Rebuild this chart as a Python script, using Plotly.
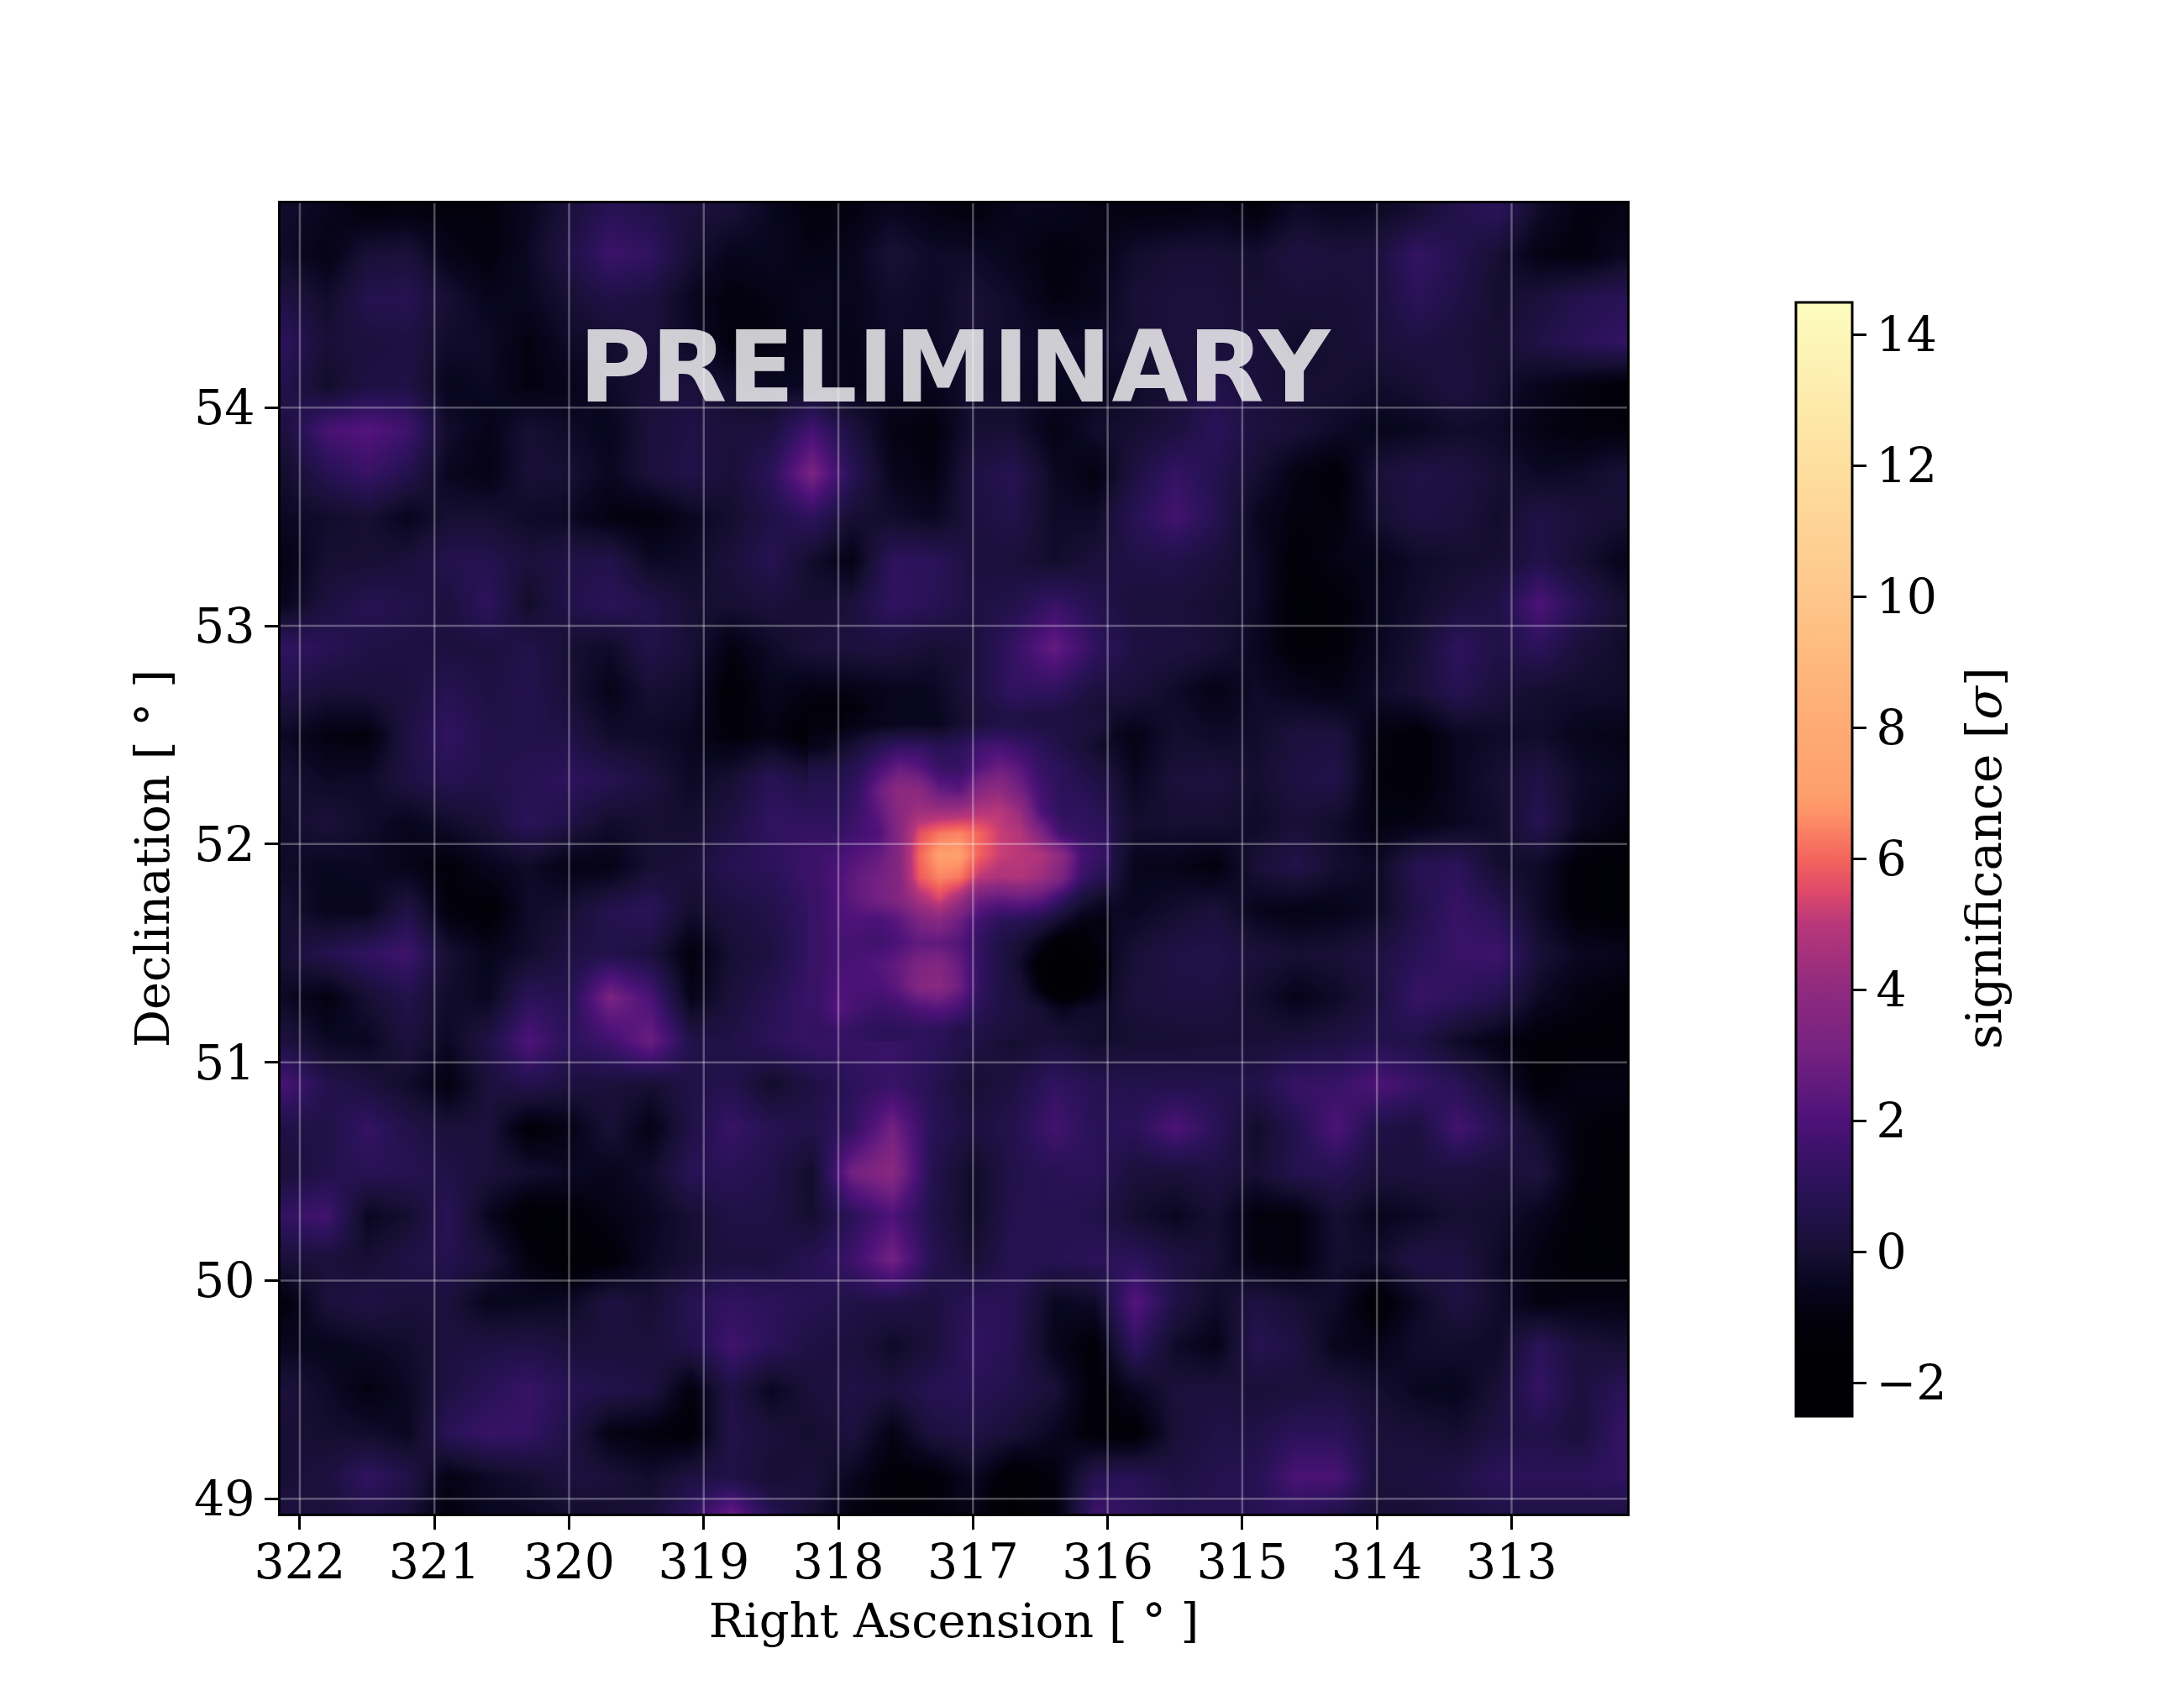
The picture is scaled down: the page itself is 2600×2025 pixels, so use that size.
import plotly.graph_objects as go

# sky grid
ra_values = [322.1, 321.8, 321.5, 321.2, 320.9, 320.6, 320.3, 320.0, 319.7, 319.4, 319.1, 318.8,
             318.5, 318.2, 317.9, 317.6, 317.3, 317.0, 316.7, 316.4, 316.1, 315.8, 315.5, 315.2,
             314.9, 314.6, 314.3, 314.0, 313.7, 313.4, 313.1, 312.8, 312.5, 312.2]
dec_values = [54.9, 54.7, 54.5, 54.3, 54.1, 53.9, 53.7, 53.5, 53.3, 53.1, 52.9, 52.7, 52.5, 52.3, 52.1, 51.9,
              51.7, 51.5, 51.3, 51.1, 50.9, 50.7, 50.5, 50.3, 50.1, 49.9, 49.7, 49.5, 49.3, 49.1, 48.9]

# significance, one row per declination, top to bottom
significance = [
    [-0.2,-0.6,-1,-0.9,-1,-1,-0.5,0.2,0.9,0.6,0.2,0.1,-0.5,-1,-0.9,-0.5,-0.8,-1,-0.6,-0.6,-0.8,-0.9,-0.9,-0.7,-1,-0.3,-0.5,-0.4,0,0.6,1.0,-0.3,-0.9,-0.8],
    [-0.3,-0.8,0.1,0.2,-0.7,-1,-0.4,0.5,1.5,1.2,0,-0.6,-0.5,-0.8,-0.6,0.1,-0.3,-0.3,-0.6,-1,-0.8,-0.2,0.1,0.1,-0.1,0.4,0.2,0.3,1.3,0.7,0,-0.8,-1,-0.5],
    [0.4,-0.2,0.7,0.8,0,-0.6,-0.5,0,0.5,0.3,-0.5,-1,-0.8,-0.5,-0.6,-0.2,-0.4,0.1,-0.3,-0.9,-0.7,0.1,0.2,0.2,0,0.1,0.1,0.2,1.0,0.5,-0.1,0.2,0.7,0.9],
    [1.0,0.1,0.3,0.4,-0.2,-0.3,-0.9,-0.3,-0.1,0.2,-0.3,-1,-0.9,-0.6,-0.7,-0.3,-0.4,0,-0.2,-0.3,-0.3,0,0.2,0.2,0.2,-0.2,0,0.2,0.4,0.2,0,0.5,0.9,1.2],
    [0.6,-0.2,0.4,0.5,-0.6,-0.4,-0.9,-0.7,-0.3,0.1,0.2,-0.2,-0.5,-0.4,-0.7,-0.5,-0.6,-0.2,-0.3,-0.5,-0.6,-0.3,0.1,0.6,0.2,0,0,-0.2,0,0.4,-0.1,-0.6,-0.9,-1.2],
    [0.4,1.8,2.2,1.6,-0.2,-0.7,0,-0.3,-0.6,0.2,0.5,0.2,0.3,1.7,0.3,-0.8,-1,0,0,-0.8,-0.2,0,0.3,1.0,0.3,0.1,-0.3,-0.6,-0.5,-0.2,-0.3,-0.8,-1,-1],
    [-0.1,0.8,1.4,0.7,-0.5,-0.8,0.1,0,-0.5,0.2,0.6,0.1,1.0,3.2,0.9,-0.6,-0.9,0.4,0.8,-0.4,-0.9,0.4,1.3,0.7,0,-0.8,-1.2,0.1,0.5,0.4,0,-0.4,-0.3,0.1],
    [-0.4,-0.2,0,-0.6,0,0,-0.3,-0.4,-0.9,-1,-0.5,-0.1,0.5,1.1,0,-0.2,-0.5,0.3,0.6,-0.3,-0.3,0.9,1.7,0.8,-0.5,-1,-1,-0.1,0.4,0.3,-0.2,0.5,0.2,0],
    [-0.8,0,0,0.2,0.7,0.7,0.2,0.5,0.6,-0.4,-0.3,0.2,0.8,-0.2,-0.8,1.1,1.0,0.3,0.2,-0.2,0.2,0.5,0.6,0.2,-0.3,-1.2,-0.8,-0.7,-0.3,-0.1,0,0.6,0,-0.6],
    [-0.5,0.3,0.8,0.6,0.3,1.1,-0.2,0.6,1.0,0.6,0,0,0.2,0,0.2,1.2,0.9,0.4,0.6,1.4,0.7,0.2,0.2,0,-0.3,-1.3,-1.2,-0.6,-0.2,0.2,0.5,2.0,0.8,0],
    [1.2,0.9,0.5,0.4,0.3,0.3,0.6,0,-0.3,0.6,0.1,-0.9,-0.3,0.2,0.3,0.3,0,0.2,1.3,2.6,1.2,0.4,0.3,0.1,-0.5,-1.2,-1.1,-0.5,0,1.1,0.5,1.0,0.2,-0.2],
    [0.5,0.1,0.2,0.3,0.8,0.4,0.7,0.1,-0.7,0,-0.2,-1.3,-0.6,-0.9,-0.8,-0.6,-0.5,0.3,1.2,1.1,0.3,0.2,-0.3,-0.8,-0.3,-0.6,-0.8,-0.3,0.1,0.8,0.2,-0.1,-0.2,-0.2],
    [-0.4,-0.9,-1,0.4,1.2,0.6,0.6,0.5,-0.2,-0.3,-0.5,-1.1,-0.8,-1.4,-1.5,-0.3,-0.6,-0.1,0,-0.3,-0.2,-0.8,-0.1,-0.3,-0.2,0.3,0.3,-0.9,-1.2,-0.5,-0.3,-0.2,-0.6,-0.7],
    [0,-0.4,-0.3,0.4,0.8,0.6,0.8,1.1,0.8,0.3,-0.4,0,0.9,0.3,0.4,1.8,1.4,1.3,2.2,0.9,0.6,-0.5,0.2,0.3,-0.1,0.4,0.6,-1,-1.2,-0.5,0,0.5,-0.3,-0.5],
    [-0.2,0.2,-0.2,-0.6,-0.2,0.2,1.0,0.5,-0.2,0,-0.1,0.4,1.2,1.2,1.6,3.4,6.5,6.5,4.0,2.0,0.9,-0.1,0,0,-0.3,0.1,-0.2,-0.9,-0.8,-0.5,-0.2,0.8,-0.4,-0.9],
    [-0.3,-0.5,-0.4,-0.7,-1.1,-0.6,-0.3,-0.8,-0.8,0,0.2,0.8,1.0,1.6,2.0,3.8,7,6.5,5.0,5.0,1.2,-0.6,-0.7,-1,0.1,0.6,-0.1,-0.4,0.8,1.0,-0.1,-0.3,-1.2,-1.3],
    [0,-0.6,-0.6,0.5,-1,-1.3,-0.3,0,0.7,1.0,-0.1,0.3,0.6,1.3,1.3,2.0,4.5,2.5,1.5,0.3,-0.3,-0.5,-0.1,0.2,-0.6,-0.8,-0.7,-0.4,0.6,1.4,0.8,-0.3,-1.2,-1.3],
    [0.1,0.7,1.2,1.6,0,-0.6,-0.2,0.4,0.6,0.3,-1,0,0.4,1.3,1.1,2.2,3.4,1.6,0.8,-1.8,-0.8,0.1,0.5,0.6,0.2,0,0.1,0.4,0.9,1.4,1.6,0.1,-0.5,-0.6],
    [-0.4,-0.9,0,0.6,-0.2,-0.5,1.0,0.7,3.2,1.9,-0.7,0.2,0.8,1.5,1.3,2.0,3.6,1.2,0.6,-1.5,-0.5,0.2,0.4,0.4,-0.1,-0.7,-0.3,0.3,1.4,1.1,0.7,-0.4,-0.9,-1.1],
    [0.3,-0.4,-0.5,0.3,-0.4,0.5,2.0,1.0,1.6,2.8,0.6,0.5,1.0,1.4,1.4,1.4,1.0,0.5,-0.1,0.2,-0.2,0,0,0.1,0.1,0.2,0.4,0.7,0.5,-0.3,-0.8,-1.2,-1.2,-1.2],
    [1.8,0.7,0.3,-0.2,-0.9,0.2,0.7,0.3,0.2,0,0.5,0.7,-0.2,0.4,1.0,1.4,0.8,0,0.4,1.2,0.8,0.6,0.7,0.6,0.6,1.4,1.4,2.0,1.4,0.9,0,-1.2,-0.8,-0.8],
    [0.5,0.5,1.3,0.6,0.2,0.2,-1.2,-0.8,0.1,-0.8,0.5,1.4,0.8,0.6,1.2,3.0,0.9,0.3,0.7,1.7,0.9,1.0,2.0,1.0,-0.2,0.7,2.0,0.5,0.3,1.7,0.8,-0.2,-1,-1.2],
    [0.2,0.6,0.9,0.8,0.5,0.2,-0.1,-0.4,-0.6,-0.2,0.9,0.9,0.6,-0.2,3.0,3.8,0.7,-0.3,0.6,0.9,1.0,0.2,0.2,0.4,0,0.7,0.8,0.2,0.3,0.3,0.1,0.3,-1,-1.3],
    [1.3,1.7,-0.5,-0.1,0.9,-0.5,-1.4,-1.2,-0.8,-0.5,0,0.5,0.5,-0.1,1.0,2.0,0.6,-0.3,0.7,0.8,0.6,-0.1,-0.5,0,-1,-1,0,-0.6,-0.4,0,-0.1,-0.6,-1.2,-1.4],
    [0.2,0.2,0,0.5,0.7,0.2,-0.9,-1.5,-1.2,-0.4,0,0.3,0.3,0.8,1.5,3.0,0.8,0,0.8,0.8,1.0,1.0,0.4,0,-0.9,-1,-0.1,-0.2,0.5,0.4,-0.3,-0.9,-1.3,-1.3],
    [-1,0.2,0.5,0.2,0.2,-0.6,-0.5,-0.4,0.4,0,0.8,1.2,1.0,0.8,0.5,0.5,0.3,1.0,0.9,-0.5,-0.3,2.2,0.5,-0.3,0.4,0,-0.3,-1.4,-0.4,0.4,-0.2,-0.9,-0.8,-0.8],
    [-0.5,-0.6,-0.4,-0.2,0.3,0.4,0.5,0.2,0.2,0.2,0.6,1.6,1.0,0.4,0.3,-0.3,0.2,1.2,0.8,-0.6,-1.2,1.2,-0.3,-0.7,0.8,0.4,-0.6,-0.7,-0.2,-0.2,-0.3,1.0,0.2,0],
    [0.2,-0.3,-0.9,-0.4,0.4,0.9,1.4,0.8,0.6,0.4,-1,0.5,-0.5,0.2,0.5,0.3,0.8,0.9,0.6,0.1,-1.2,-0.5,0.2,0.3,0.1,0.2,0.3,-0.1,-0.5,-0.6,0.1,1.3,0.3,0.9],
    [0.1,-0.1,-0.2,-0.5,0.9,1.4,1.3,0.5,-0.8,-1,-1.2,0.6,0.2,-0.1,0.3,-0.8,0.3,0.5,0.1,-0.5,-1.2,-1.3,0.1,0.5,0.5,1.0,1.0,0.2,0.1,-0.1,0.4,0.6,0.2,1.3],
    [0.1,0.3,1.2,0.6,-0.8,-0.4,-0.1,0.3,0.2,-0.2,0.4,0.5,0,0.2,-0.5,-1.2,-1.2,-0.4,-1.5,-1,0.8,0.9,0.4,0.7,0.8,1.9,1.9,0.2,0.3,0.5,1.0,1.0,1.0,1.2],
    [0.4,0.1,0.4,0,-1,-0.5,-0.5,-0.2,-0.1,0.2,1.2,3.0,0.9,0,-1,-1.2,-1,-0.8,-1.6,-1.1,1.7,1.2,0.8,0.7,0.8,0.8,0.3,0,0,0.3,0.4,0.4,0.4,0.3],
]

# finer grid over the bright source
core_ra = [318.15, 318.0, 317.85, 317.7, 317.55, 317.4, 317.25, 317.1, 316.95, 316.8, 316.65, 316.5, 316.35, 316.2, 316.05]
core_dec = [52.55, 52.45, 52.35, 52.25, 52.15, 52.05, 51.95, 51.85, 51.75, 51.65, 51.55, 51.45, 51.35, 51.25, 51.15]
core_significance = [
    [-1,-1,-0.8,-0.6,-0.5,-0.5,-0.5,-0.1,0.3,0.5,0.5,0.4,0.4,0.3,0.1],
    [-0.7,-0.3,0.2,0.8,1.2,1.2,0.8,1,1.6,1.8,1.4,1.0,0.5,0.2,-0.3],
    [0.4,0.4,0.9,1.8,2.7,2.3,1.4,1.3,2.2,2.8,2.3,1.3,1.0,0.5,0.2],
    [0.8,0.8,1.3,2.8,3.9,3.8,2.6,2.3,3.7,4.0,3.0,1.7,1.0,0.9,0.5],
    [1.0,1.0,1.5,2.4,3.8,4.4,4.4,4.5,4.9,5.0,4.2,2.0,1.1,1.1,0.8],
    [1.3,1.3,1.7,2.0,3.6,5.6,6.3,6.5,6.0,5.2,4.9,3.5,1.6,1.3,1.1],
    [1.5,1.8,2.2,2.6,3.6,6.0,7.0,7.0,5.9,5.2,5.0,4.8,3.9,1.8,1.3],
    [1.5,2.0,2.6,3.0,3.6,5.8,6.5,6.3,5.0,4.7,4.8,4.4,3.4,1.5,0.8],
    [1.4,2.0,2.6,3.0,3.5,4.6,5.4,4.4,2.8,2.5,2.7,2.4,1.3,0.2,-0.3],
    [1.4,1.9,2.0,1.9,2.3,3.3,3.7,2.8,1.6,1.0,0.8,0.5,-0.2,-0.8,-0.9],
    [1.4,1.8,1.7,1.6,2.0,2.5,2.5,2.2,1.2,0.5,0.1,-0.6,-1.5,-1.3,-0.8],
    [1.4,1.8,1.9,2.2,2.6,3.3,3.5,2.6,1.2,0.5,-0.2,-1.4,-2.3,-1.8,-1.0],
    [1.4,2.0,1.9,1.9,2.5,3.6,3.8,2.8,1.2,0.5,0.1,-1.0,-2.3,-1.8,-0.8],
    [1.4,2.2,1.7,1.4,1.6,2.0,2.2,1.8,0.9,0.5,0.3,0,-0.6,-0.3,-0.2],
    [1.2,1.4,1.2,1.0,1.0,1.1,1.0,0.6,0.5,0.3,0.1,0.1,0,-0.1,-0.2],
]

ra_ticks = [322, 321, 320, 319, 318, 317, 316, 315, 314, 313]
dec_ticks = [54, 53, 52, 51, 50, 49]
cbar_ticks = [-2, 0, 2, 4, 6, 8, 10, 12, 14]
z_min = -2.5
z_max = 14.5
ra_range = [322.143, 312.142]
dec_range = [48.932, 54.936]

# colorbar stops, value then colour
stop_values = [-2.5, -1.5, -1, -0.5, 0, 1, 2, 3, 4, 5, 5.5, 6, 6.7, 7, 8, 10, 12, 14.5]
stop_colors = ["#000004", "#010105", "#02010c", "#090620", "#160f33", "#2a1259", "#4d1278", "#732181", "#8f2a7f",
               "#b8377a", "#df4a6a", "#f3655c", "#fe9368", "#fea06e", "#feaa74", "#fec68a", "#fedf9f", "#fcfdbf"]
colorscale = [[(v - z_min) / (z_max - z_min), c] for v, c in zip(stop_values, stop_colors)]

W = 2600
H = 2025
# the page body adds 8px, so everything is placed 8px up and left
L, R, T, B = 326, 1929, 234, 1794
FONT = "DejaVu Serif"
GRID = "rgba(255,255,255,0.3)"
BLACK = dict(family=FONT, size=57, color="black")
TITLE = dict(family=FONT, size=56, color="black")

fig = go.Figure()
fig.add_trace(go.Heatmap(
    x=ra_values, y=dec_values, z=significance,
    zmin=z_min, zmax=z_max, zsmooth="best", colorscale=colorscale,
    colorbar=dict(
        lenmode="pixels", len=1326, thickness=67, thicknessmode="pixels",
        x=(2130 - L) / (R - L), xanchor="left", xpad=0, ypad=0,
        y=1 - (1014.5 - T) / (B - T), yanchor="middle",
        tickvals=cbar_ticks, ticks="outside", ticklen=16, tickwidth=3, tickcolor="black",
        tickfont=BLACK, outlinewidth=3, outlinecolor="black",
    ),
))
fig.add_trace(go.Heatmap(
    x=core_ra, y=core_dec, z=core_significance,
    zmin=z_min, zmax=z_max, zsmooth="best", colorscale=colorscale, showscale=False,
))

# grid sits on top of the image
for t in ra_ticks:
    fig.add_shape(type="line", x0=t, x1=t, y0=dec_range[0], y1=dec_range[1], line=dict(color=GRID, width=2.5))
for t in dec_ticks:
    fig.add_shape(type="line", y0=t, y1=t, x0=ra_range[0], x1=ra_range[1], line=dict(color=GRID, width=2.5))

fig.add_annotation(text="<b>PRELIMINARY</b>", xref="paper", yref="paper",
                   x=(1129 - L) / (R - L), y=1 - (429 - T) / (B - T),
                   showarrow=False, font=dict(family="DejaVu Sans", size=117.5, color="rgba(255,255,255,0.8)"),
                   xanchor="center", yanchor="middle")
fig.add_annotation(text="significance [<i>σ</i>]", xref="paper", yref="paper",
                   x=(2354 - L) / (R - L), y=1 - (1014 - T) / (B - T),
                   showarrow=False, textangle=-90, font=dict(family=FONT, size=58, color="black"),
                   xanchor="center", yanchor="middle")

fig.update_xaxes(
    range=ra_range, tickvals=ra_ticks, ticks="outside", ticklen=16, tickwidth=3, tickcolor="black",
    showgrid=False, zeroline=False, showline=True, mirror=True, linecolor="black", linewidth=3,
    tickfont=BLACK, ticklabelstandoff=-10,
    title=dict(text="Right Ascension [ ° ]", font=TITLE, standoff=19),
)
fig.update_yaxes(
    range=dec_range, tickvals=dec_ticks, ticks="outside", ticklen=16, tickwidth=3, tickcolor="black",
    showgrid=False, zeroline=False, showline=True, mirror=True, linecolor="black", linewidth=3,
    tickfont=BLACK,
    title=dict(text="Declination [ ° ]", font=TITLE, standoff=12),
)
fig.update_layout(
    width=W, height=H, autosize=False, paper_bgcolor="white", plot_bgcolor="white", showlegend=False,
    margin=dict(l=L, r=W - R, t=T, b=H - B, pad=0, autoexpand=False),
)
fig.write_html("out.html")
